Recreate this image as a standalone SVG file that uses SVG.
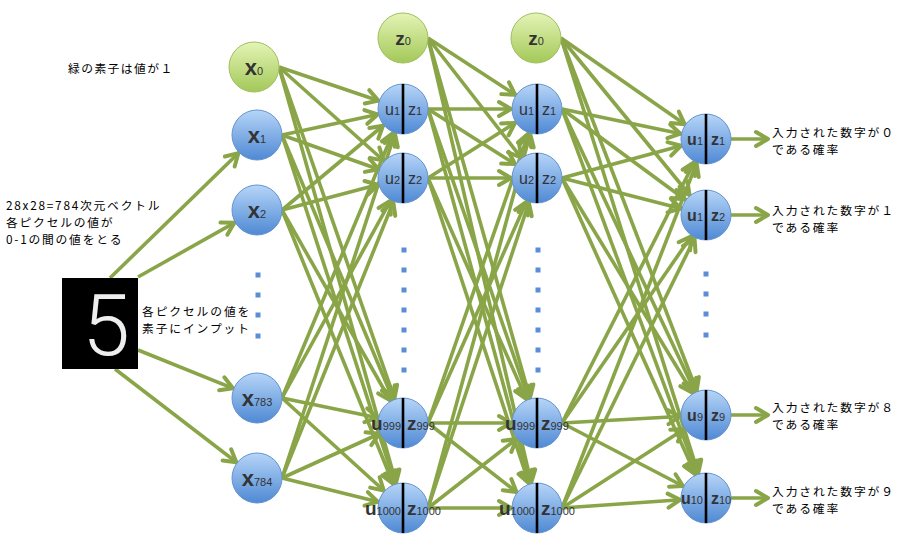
<svg xmlns="http://www.w3.org/2000/svg" width="906" height="544" viewBox="0 0 906 544">
<style>
.e{stroke:#89a548;stroke-width:3.6;fill:none;marker-end:url(#ah)}
.o{stroke:#89a548;stroke-width:3.6;fill:none;marker-end:url(#ah2)}
.b{fill:url(#gb);stroke:#6593cc;stroke-width:1}
.g{fill:url(#gg);stroke:#9fbf5e;stroke-width:1}
.dv{stroke:#000;stroke-width:2.6}
.t{font-family:"Noto Sans CJK JP","Liberation Sans",sans-serif;font-size:11.8px;fill:#000;letter-spacing:1.75px}
.t2{font-family:"Noto Sans CJK JP","Liberation Sans",sans-serif;font-size:11.8px;fill:#000;letter-spacing:1.85px}
.nl{font-family:"Liberation Sans",sans-serif;fill:#333;font-size:16px}
.nb{font-family:"Liberation Sans",sans-serif;fill:#333;font-size:19px;font-weight:bold}
.ob{font-family:"Liberation Sans",sans-serif;fill:#333;font-size:16px;font-weight:bold}
.xl{font-family:"Liberation Sans",sans-serif;fill:#333;font-size:22px;font-weight:bold}
.sub{font-size:11px;font-weight:normal}
.dot{fill:#5b8ed6}
</style>
<defs>
<linearGradient id="gb" x1="0" y1="0" x2="0" y2="1">
<stop offset="0" stop-color="#b6d5f8"/>
<stop offset="1" stop-color="#4f89d4"/>
</linearGradient>
<linearGradient id="gg" x1="0" y1="0" x2="0" y2="1">
<stop offset="0" stop-color="#e4f4b6"/>
<stop offset="1" stop-color="#a3c858"/>
</linearGradient>
<marker id="ah" markerUnits="userSpaceOnUse" orient="auto" overflow="visible" markerWidth="1" markerHeight="1" refX="0" refY="0">
<path d="M-38,-7 L-26,0 L-38,7" fill="none" stroke="#89a548" stroke-width="4" stroke-linecap="round" stroke-linejoin="round"/>
</marker>
<marker id="ah2" markerUnits="userSpaceOnUse" orient="auto" overflow="visible" markerWidth="1" markerHeight="1" refX="0" refY="0">
<path d="M-12,-7 L0,0 L-12,7" fill="none" stroke="#89a548" stroke-width="4" stroke-linecap="round" stroke-linejoin="round"/>
</marker>
</defs>
<rect width="906" height="544" fill="#fff"/>

<g id="connectors">
<line class="e" x1="110" y1="278" x2="257" y2="135"/>
<line class="e" x1="138" y1="277" x2="257" y2="210"/>
<line class="e" x1="138" y1="350" x2="257" y2="398"/>
<line class="e" x1="115" y1="369" x2="257" y2="478"/>

<line class="e" x1="279" y1="67" x2="403" y2="109"/>
<line class="e" x1="279" y1="67" x2="403" y2="178"/>
<line class="e" x1="279" y1="67" x2="403" y2="423"/>
<line class="e" x1="279" y1="67" x2="403" y2="508"/>
<line class="e" x1="282" y1="135" x2="403" y2="109"/>
<line class="e" x1="282" y1="135" x2="403" y2="178"/>
<line class="e" x1="282" y1="135" x2="403" y2="423"/>
<line class="e" x1="282" y1="135" x2="403" y2="508"/>
<line class="e" x1="282" y1="210" x2="403" y2="109"/>
<line class="e" x1="282" y1="210" x2="403" y2="178"/>
<line class="e" x1="282" y1="210" x2="403" y2="423"/>
<line class="e" x1="282" y1="210" x2="403" y2="508"/>
<line class="e" x1="282" y1="398" x2="403" y2="109"/>
<line class="e" x1="282" y1="398" x2="403" y2="178"/>
<line class="e" x1="282" y1="398" x2="403" y2="423"/>
<line class="e" x1="282" y1="398" x2="403" y2="508"/>
<line class="e" x1="282" y1="478" x2="403" y2="109"/>
<line class="e" x1="282" y1="478" x2="403" y2="178"/>
<line class="e" x1="282" y1="478" x2="403" y2="423"/>
<line class="e" x1="282" y1="478" x2="403" y2="508"/>

<line class="e" x1="428" y1="38" x2="537" y2="109"/>
<line class="e" x1="428" y1="38" x2="537" y2="178"/>
<line class="e" x1="428" y1="38" x2="537" y2="423"/>
<line class="e" x1="428" y1="38" x2="537" y2="508"/>
<line class="e" x1="428" y1="109" x2="537" y2="109"/>
<line class="e" x1="428" y1="109" x2="537" y2="178"/>
<line class="e" x1="428" y1="109" x2="537" y2="423"/>
<line class="e" x1="428" y1="109" x2="537" y2="508"/>
<line class="e" x1="428" y1="178" x2="537" y2="109"/>
<line class="e" x1="428" y1="178" x2="537" y2="178"/>
<line class="e" x1="428" y1="178" x2="537" y2="423"/>
<line class="e" x1="428" y1="178" x2="537" y2="508"/>
<line class="e" x1="428" y1="423" x2="537" y2="109"/>
<line class="e" x1="428" y1="423" x2="537" y2="178"/>
<line class="e" x1="428" y1="423" x2="537" y2="423"/>
<line class="e" x1="428" y1="423" x2="537" y2="508"/>
<line class="e" x1="428" y1="508" x2="537" y2="109"/>
<line class="e" x1="428" y1="508" x2="537" y2="178"/>
<line class="e" x1="428" y1="508" x2="537" y2="423"/>
<line class="e" x1="428" y1="508" x2="537" y2="508"/>

<line class="e" x1="561" y1="38" x2="706" y2="139"/>
<line class="e" x1="561" y1="38" x2="706" y2="215"/>
<line class="e" x1="561" y1="38" x2="706" y2="415"/>
<line class="e" x1="561" y1="38" x2="706" y2="498"/>
<line class="e" x1="562" y1="109" x2="706" y2="139"/>
<line class="e" x1="562" y1="109" x2="706" y2="215"/>
<line class="e" x1="562" y1="109" x2="706" y2="415"/>
<line class="e" x1="562" y1="109" x2="706" y2="498"/>
<line class="e" x1="562" y1="178" x2="706" y2="139"/>
<line class="e" x1="562" y1="178" x2="706" y2="215"/>
<line class="e" x1="562" y1="178" x2="706" y2="415"/>
<line class="e" x1="562" y1="178" x2="706" y2="498"/>
<line class="e" x1="562" y1="423" x2="706" y2="139"/>
<line class="e" x1="562" y1="423" x2="706" y2="215"/>
<line class="e" x1="562" y1="423" x2="706" y2="415"/>
<line class="e" x1="562" y1="423" x2="706" y2="498"/>
<line class="e" x1="562" y1="508" x2="706" y2="139"/>
<line class="e" x1="562" y1="508" x2="706" y2="215"/>
<line class="e" x1="562" y1="508" x2="706" y2="415"/>
<line class="e" x1="562" y1="508" x2="706" y2="498"/>

<line class="o" x1="731" y1="139" x2="768" y2="139"/>
<line class="o" x1="731" y1="215" x2="768" y2="215"/>
<line class="o" x1="731" y1="415" x2="768" y2="415"/>
<line class="o" x1="731" y1="498" x2="768" y2="498"/>
</g>

<g id="labels">
<text class="t" x="68" y="73" style="letter-spacing:1.4px">緑の素子は値が１</text>
<text class="t" x="6" y="210">28x28=784次元ベクトル<tspan x="6" dy="17.2">各ピクセルの値が</tspan><tspan x="6" dy="17.2">0-1の間の値をとる</tspan></text>
<text class="t2" x="142" y="316">各ピクセルの値を<tspan x="142" dy="17.2">素子にインプット</tspan></text>
</g>

<g id="input-image">
<rect x="62" y="278" width="76" height="91" fill="#000"/>
<text x="106" y="355" text-anchor="middle" font-family="Roboto, Inter, sans-serif" font-weight="300" font-size="86" fill="#eeeeee">5</text>
</g>

<g id="x0"><circle class="g" cx="254" cy="67" r="25"/><text class="xl" x="254" y="75" text-anchor="middle">x<tspan class="sub">0</tspan></text></g>
<g id="x1"><circle class="b" cx="257" cy="135" r="25"/><text class="xl" x="257" y="143" text-anchor="middle">x<tspan class="sub">1</tspan></text></g>
<g id="x2"><circle class="b" cx="257" cy="210" r="25"/><text class="xl" x="257" y="218" text-anchor="middle">x<tspan class="sub">2</tspan></text></g>
<g id="x783"><circle class="b" cx="257" cy="398" r="25"/><text class="xl" x="257" y="406" text-anchor="middle">x<tspan class="sub">783</tspan></text></g>
<g id="x784"><circle class="b" cx="257" cy="478" r="25"/><text class="xl" x="257" y="486" text-anchor="middle">x<tspan class="sub">784</tspan></text></g>
<g id="input-dots">
<rect class="dot" x="255.5" y="272.5" width="5" height="5"/>
<rect class="dot" x="255.5" y="292.5" width="5" height="5"/>
<rect class="dot" x="255.5" y="312.5" width="5" height="5"/>
<rect class="dot" x="255.5" y="333.5" width="5" height="5"/>
</g>

<g id="h1-z0"><circle class="g" cx="403" cy="38" r="25"/><text class="nb" x="403" y="45" text-anchor="middle" font-size="18">z<tspan class="sub">0</tspan></text></g>
<g id="h1-u1"><circle class="b" cx="403" cy="109" r="25"/><line class="dv" x1="403" y1="84" x2="403" y2="134"/><text class="nl" x="400" y="115" text-anchor="end">u<tspan class="sub">1</tspan></text><text class="nl" x="408" y="115">z<tspan class="sub">1</tspan></text></g>
<g id="h1-u2"><circle class="b" cx="403" cy="178" r="25"/><line class="dv" x1="403" y1="153" x2="403" y2="203"/><text class="nl" x="400" y="184" text-anchor="end">u<tspan class="sub">2</tspan></text><text class="nl" x="408" y="184">z<tspan class="sub">2</tspan></text></g>
<g id="h1-u999"><circle class="b" cx="403" cy="423" r="25"/><line class="dv" x1="403" y1="398" x2="403" y2="448"/><text class="nb" x="401" y="430" text-anchor="end">u<tspan class="sub">999</tspan></text><text class="nb" x="407" y="430">z<tspan class="sub">999</tspan></text></g>
<g id="h1-u1000"><circle class="b" cx="403" cy="508" r="25"/><line class="dv" x1="403" y1="483" x2="403" y2="533"/><text class="nb" x="401" y="515" text-anchor="end">u<tspan class="sub">1000</tspan></text><text class="nb" x="407" y="515">z<tspan class="sub">1000</tspan></text></g>
<g id="h1-dots">
<rect class="dot" x="401.5" y="247.5" width="5" height="5"/>
<rect class="dot" x="401.5" y="267.5" width="5" height="5"/>
<rect class="dot" x="401.5" y="287.5" width="5" height="5"/>
<rect class="dot" x="401.5" y="307.5" width="5" height="5"/>
<rect class="dot" x="401.5" y="327.5" width="5" height="5"/>
<rect class="dot" x="401.5" y="347.5" width="5" height="5"/>
<rect class="dot" x="401.5" y="367.5" width="5" height="5"/>
</g>

<g id="h2-z0"><circle class="g" cx="536" cy="38" r="25"/><text class="nb" x="536" y="45" text-anchor="middle" font-size="18">z<tspan class="sub">0</tspan></text></g>
<g id="h2-u1"><circle class="b" cx="537" cy="109" r="25"/><line class="dv" x1="537" y1="84" x2="537" y2="134"/><text class="nl" x="534" y="115" text-anchor="end">u<tspan class="sub">1</tspan></text><text class="nl" x="542" y="115">z<tspan class="sub">1</tspan></text></g>
<g id="h2-u2"><circle class="b" cx="537" cy="178" r="25"/><line class="dv" x1="537" y1="153" x2="537" y2="203"/><text class="nl" x="534" y="184" text-anchor="end">u<tspan class="sub">2</tspan></text><text class="nl" x="542" y="184">z<tspan class="sub">2</tspan></text></g>
<g id="h2-u999"><circle class="b" cx="537" cy="423" r="25"/><line class="dv" x1="537" y1="398" x2="537" y2="448"/><text class="nb" x="535" y="430" text-anchor="end">u<tspan class="sub">999</tspan></text><text class="nb" x="541" y="430">z<tspan class="sub">999</tspan></text></g>
<g id="h2-u1000"><circle class="b" cx="537" cy="508" r="25"/><line class="dv" x1="537" y1="483" x2="537" y2="533"/><text class="nb" x="535" y="515" text-anchor="end">u<tspan class="sub">1000</tspan></text><text class="nb" x="541" y="515">z<tspan class="sub">1000</tspan></text></g>
<g id="h2-dots">
<rect class="dot" x="535.5" y="247.5" width="5" height="5"/>
<rect class="dot" x="535.5" y="267.5" width="5" height="5"/>
<rect class="dot" x="535.5" y="287.5" width="5" height="5"/>
<rect class="dot" x="535.5" y="307.5" width="5" height="5"/>
<rect class="dot" x="535.5" y="327.5" width="5" height="5"/>
<rect class="dot" x="535.5" y="347.5" width="5" height="5"/>
<rect class="dot" x="535.5" y="367.5" width="5" height="5"/>
</g>

<g id="out-1"><circle class="b" cx="706" cy="139" r="25"/><line class="dv" x1="706" y1="114" x2="706" y2="164"/><text class="ob" x="703" y="145" text-anchor="end">u<tspan class="sub">1</tspan></text><text class="ob" x="711" y="145">z<tspan class="sub">1</tspan></text></g>
<g id="out-2"><circle class="b" cx="706" cy="215" r="25"/><line class="dv" x1="706" y1="190" x2="706" y2="240"/><text class="ob" x="703" y="221" text-anchor="end">u<tspan class="sub">1</tspan></text><text class="ob" x="711" y="221">z<tspan class="sub">2</tspan></text></g>
<g id="out-9"><circle class="b" cx="706" cy="415" r="25"/><line class="dv" x1="706" y1="390" x2="706" y2="440"/><text class="ob" x="703" y="421" text-anchor="end">u<tspan class="sub">9</tspan></text><text class="ob" x="711" y="421">z<tspan class="sub">9</tspan></text></g>
<g id="out-10"><circle class="b" cx="706" cy="498" r="25"/><line class="dv" x1="706" y1="473" x2="706" y2="523"/><text class="ob" x="703" y="504" text-anchor="end">u<tspan class="sub">10</tspan></text><text class="ob" x="711" y="504">z<tspan class="sub">10</tspan></text></g>
<g id="out-dots">
<rect class="dot" x="703.5" y="271.5" width="5" height="5"/>
<rect class="dot" x="703.5" y="291.5" width="5" height="5"/>
<rect class="dot" x="703.5" y="311.5" width="5" height="5"/>
<rect class="dot" x="703.5" y="332.5" width="5" height="5"/>
</g>

<g id="out-labels">
<text class="t2" x="772" y="137">入力された数字が０<tspan x="772" dy="17.2">である確率</tspan></text>
<text class="t2" x="772" y="215">入力された数字が１<tspan x="772" dy="17.2">である確率</tspan></text>
<text class="t2" x="772" y="412">入力された数字が８<tspan x="772" dy="17.2">である確率</tspan></text>
<text class="t2" x="772" y="496">入力された数字が９<tspan x="772" dy="17.2">である確率</tspan></text>
</g>
</svg>
